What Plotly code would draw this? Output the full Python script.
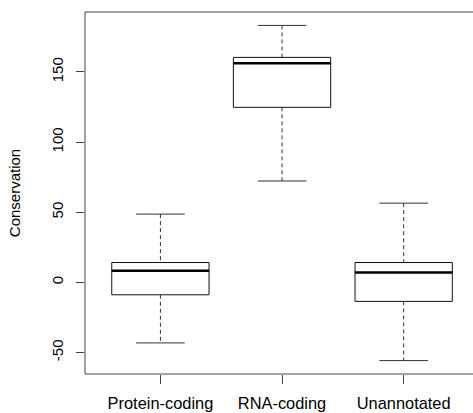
import plotly.graph_objects as go

categories = ["Protein-coding", "RNA-coding", "Unannotated"]
lower_whisker = [-43.1, 72.3, -55.7]
q1 = [-8.8, 124.8, -13.5]
median = [8.3, 156.2, 7.1]
q3 = [14.2, 160.4, 14.2]
upper_whisker = [48.7, 183.2, 56.5]
y_ticks = [-50, 0, 50, 100, 150]

FONT = "Liberation Sans, Arial, Helvetica, sans-serif"
LINE = "#111111"
WHISK = "#333333"
half_box = 0.4   # boxwex 0.8
half_cap = 0.2   # staplewex 0.5

fig = go.Figure()
for i, cat in enumerate(categories):
    x = i + 1
    # whiskers (dashed)
    fig.add_trace(go.Scatter(
        x=[x, x, None, x, x],
        y=[upper_whisker[i], q3[i], None, q1[i], lower_whisker[i]],
        mode="lines", line=dict(color=WHISK, width=1, dash="4px,3px"),
        hoverinfo="skip", showlegend=False))
    # caps
    fig.add_trace(go.Scatter(
        x=[x - half_cap, x + half_cap, None, x - half_cap, x + half_cap],
        y=[upper_whisker[i], upper_whisker[i], None, lower_whisker[i], lower_whisker[i]],
        mode="lines", line=dict(color=WHISK, width=1),
        hoverinfo="skip", showlegend=False))
    # box
    fig.add_trace(go.Scatter(
        x=[x - half_box, x + half_box, x + half_box, x - half_box, x - half_box],
        y=[q1[i], q1[i], q3[i], q3[i], q1[i]],
        mode="lines", line=dict(color=LINE, width=1),
        fill="toself", fillcolor="white",
        hoverinfo="skip", showlegend=False))
    # median
    fig.add_trace(go.Scatter(
        x=[x - half_box, x + half_box],
        y=[median[i], median[i]],
        mode="lines", line=dict(color="#000000", width=2.6),
        hoverinfo="skip", showlegend=False))

lo = min(lower_whisker)
hi = max(upper_whisker)
pad = 0.04 * (hi - lo)

fig.update_layout(
    width=473, height=413,
    margin=dict(l=84.5, r=0, t=12, b=39),
    paper_bgcolor="white", plot_bgcolor="white",
    font=dict(family=FONT, size=15, color="#000000"),
    xaxis=dict(
        range=[0.38, 3.57],
        tickmode="array", tickvals=[1, 2, 3], ticktext=categories,
        ticks="outside", ticklen=9, tickcolor="#444444", tickwidth=1,
        ticklabelstandoff=5,
        showgrid=False, zeroline=False, showline=False,
        tickfont=dict(size=16.4),
    ),
    yaxis=dict(
        range=[lo - pad, hi + pad],
        tickmode="array", tickvals=y_ticks, ticktext=[str(v) for v in y_ticks],
        ticks="outside", ticklen=8, tickcolor="#444444", tickwidth=1,
        tickangle=-90, ticklabelstandoff=7,
        showgrid=False, zeroline=False, showline=False,
        title=dict(text="Conservation", font=dict(size=15), standoff=24),
        tickfont=dict(size=15),
    ),
    shapes=[
        dict(type="rect", xref="paper", yref="paper", x0=0, x1=1.05, y0=0, y1=1,
             line=dict(color="#444444", width=1), layer="above"),
    ],
)

fig.write_html("out.html")
